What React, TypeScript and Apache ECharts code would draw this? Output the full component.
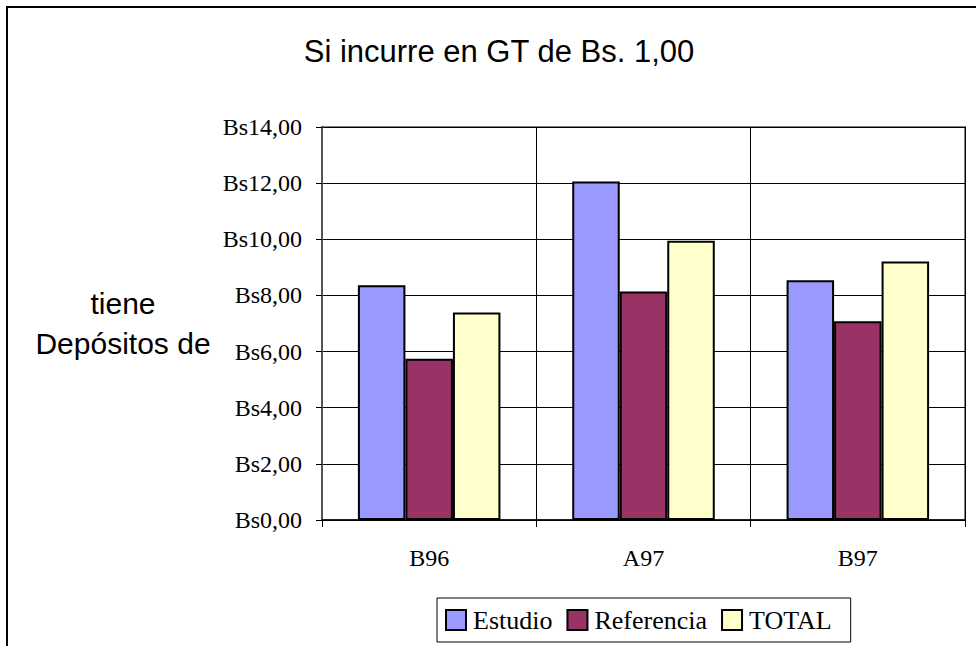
import React, { useEffect, useRef } from "react";
import * as echarts from "echarts";

const categories = ["B96", "A97", "B97"];
const estudio = [8.36, 12.06, 8.54];
const referencia = [5.74, 8.14, 7.08];
const total = [7.39, 9.95, 9.21];
const seriesNames = ["Estudio", "Referencia", "TOTAL"];
const colors = ["#9999FF", "#993366", "#FFFFCC"];
const titleText = "Si incurre en GT de Bs. 1,00";
const yAxisTitle = "tiene\nDepósitos de";

export default function App() {
  const ref = useRef<HTMLDivElement>(null);
  useEffect(() => {
    document.body.style.margin = "0";
    const chart = echarts.init(ref.current!, null, { renderer: "svg" });
    const serif = "'Liberation Serif', 'Times New Roman', serif";
    const sans = "'Liberation Sans', Arial, sans-serif";
    const data = [estudio, referencia, total];
    chart.setOption({
      animation: false,
      backgroundColor: "#ffffff",
      title: {
        text: titleText,
        left: 494,
        textAlign: "center",
        top: 31,
        textStyle: { fontFamily: sans, fontSize: 31, fontWeight: "normal", color: "#000" },
      },
      graphic: [
        {
          type: "rect",
          shape: { x: 7, y: 7, width: 1000, height: 700 },
          style: { fill: "none", stroke: "#000", lineWidth: 2 },
          z: 100,
          silent: true,
        },
        {
          type: "text",
          x: 123,
          y: 323,
          style: {
            text: yAxisTitle,
            fontFamily: sans,
            fontSize: 30,
            lineHeight: 40,
            fill: "#000",
            align: "center",
            verticalAlign: "middle",
          },
        },
      ],
      legend: {
        data: seriesNames,
        left: 437,
        top: 598,
        padding: [8, 19, 8, 8],
        itemGap: 14,
        itemWidth: 20,
        itemHeight: 20,
        borderColor: "#000",
        borderWidth: 1,
        icon: "rect",
        itemStyle: { borderColor: "#000", borderWidth: 2 },
        textStyle: {
          fontFamily: serif,
          fontSize: 26,
          lineHeight: 28,
          color: "#000",
          padding: [0, 0, 0, 2],
        },
      },
      grid: {
        left: 322,
        right: 11,
        top: 127,
        bottom: 126,
        show: true,
        borderColor: "#808080",
        borderWidth: 2,
      },
      xAxis: {
        type: "category",
        data: categories,
        axisLine: { lineStyle: { color: "#000", width: 1.5 } },
        axisTick: { show: true, length: 7, lineStyle: { color: "#000" } },
        axisLabel: { fontFamily: serif, fontSize: 24, color: "#000", margin: 26 },
        splitLine: { show: true, lineStyle: { color: "#000", width: 1 } },
      },
      yAxis: {
        type: "value",
        min: 0,
        max: 14,
        interval: 2,
        axisLine: { show: true, lineStyle: { color: "#555", width: 2 } },
        axisTick: { show: true, length: 6, lineStyle: { color: "#000" } },
        axisLabel: {
          fontFamily: serif,
          fontSize: 24,
          color: "#000",
          margin: 20,
          formatter: (v: number) => "Bs" + v.toFixed(2).replace(".", ","),
        },
        splitLine: { show: true, lineStyle: { color: "#000", width: 1 } },
      },
      series: seriesNames.map((name, i) => ({
        name,
        type: "bar",
        data: data[i],
        barGap: "0%",
        barCategoryGap: "33.5%",
        itemStyle: { color: colors[i], borderColor: "#000", borderWidth: 2 },
      })),
    });
    return () => chart.dispose();
  }, []);
  return <div ref={ref} style={{ width: 976, height: 646 }} />;
}
